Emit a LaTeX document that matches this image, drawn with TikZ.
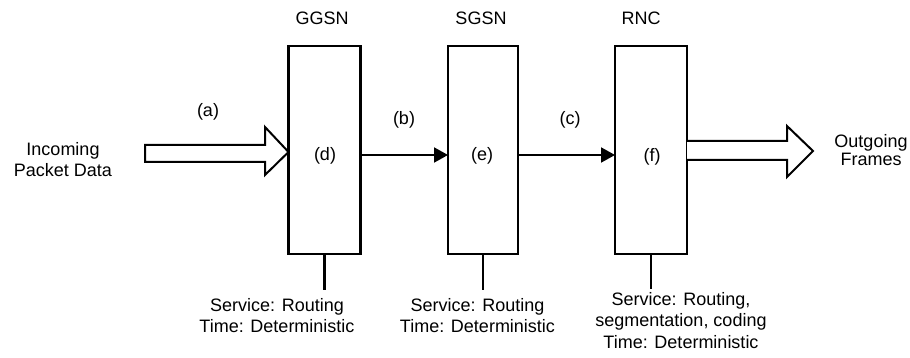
\documentclass[tikz,border=0pt]{standalone}
\usepackage{fontspec}
\setmainfont{Liberation Sans}
\usetikzlibrary{arrows.meta,calc}

\begin{document}
\begin{tikzpicture}[x=1pt,y=-1pt,
  every node/.style={inner sep=0pt,outer sep=0pt,font=\fontsize{18}{21.5}\selectfont},
  netbox/.style={draw,line width=2.3pt,minimum height=208pt},
  lbl/.style={align=center,anchor=north},
  stem/.style={line width=2.3pt},
  link/.style={line width=2pt,-{Triangle[length=14pt,width=15pt]}},
  hollow/.style={draw,line width=2pt,line join=miter,fill=white}]

\useasboundingbox (0,0) rectangle (910,358);

% network elements
\node[netbox,minimum width=72pt] (d) at (324.5,150) {};
\node[netbox,minimum width=70pt] (e) at (483,150) {};
\node[netbox,minimum width=72pt] (f) at (651,150) {};

% element names
\node[lbl] (ggsn) at (322,12) {GGSN};
\node[lbl] (sgsn) at (481,12) {SGSN};
\node[lbl] (rnc) at (641,12) {RNC};

% points inside the elements
\node (dl) at (325,156) {(d)};
\node (el) at (482,156) {(e)};
\node (fl) at (652,157) {(f)};

% interfaces
\node (al) at (208,112) {(a)};
\node (bl) at (404,120) {(b)};
\node (cl) at (570,120) {(c)};

% incoming packet data (hollow arrow)
\node[lbl] (inc) at (63,142) {Incoming\\Packet Data};
\draw[hollow] (145,145) -- (265,145) -- (265,127) -- (d.west |- 0,152)
  -- (265,175) -- (265,162) -- (145,162) -- cycle;

% outgoing frames (hollow arrow)
\node[lbl,font=\fontsize{18}{18.5}\selectfont] (out) at (871,134) {Outgoing\\Frames};
\draw[hollow] (f.east |- 0,141) -- (787,141) -- (787,126) -- (813,151)
  -- (787,177) -- (787,160) -- (f.east |- 0,160);

% links between elements
\draw[link] ([yshift=-5pt]d.east) -- ([yshift=-5pt]e.west);
\draw[link] ([yshift=-5pt]e.east) -- ([yshift=-5pt]f.west);

% service descriptions
\coordinate (ds) at ($(d.south)+(0,36)$);
\coordinate (es) at ($(e.south)+(0,36)$);
\coordinate (fs) at ($(f.south)+(0,35)$);
\draw[stem] (d.south) -- (ds);
\draw[stem] (e.south) -- (es);
\draw[stem] (f.south) -- (fs);

\node[lbl] (dsvc) at (277,298) {Service: Routing\\Time: Deterministic};
\node[lbl] (esvc) at (477.5,298) {Service: Routing\\Time: Deterministic};
\node[lbl] (fsvc) at (681,292) {Service: Routing,\\segmentation, coding\\Time: Deterministic};

\end{tikzpicture}
\end{document}
